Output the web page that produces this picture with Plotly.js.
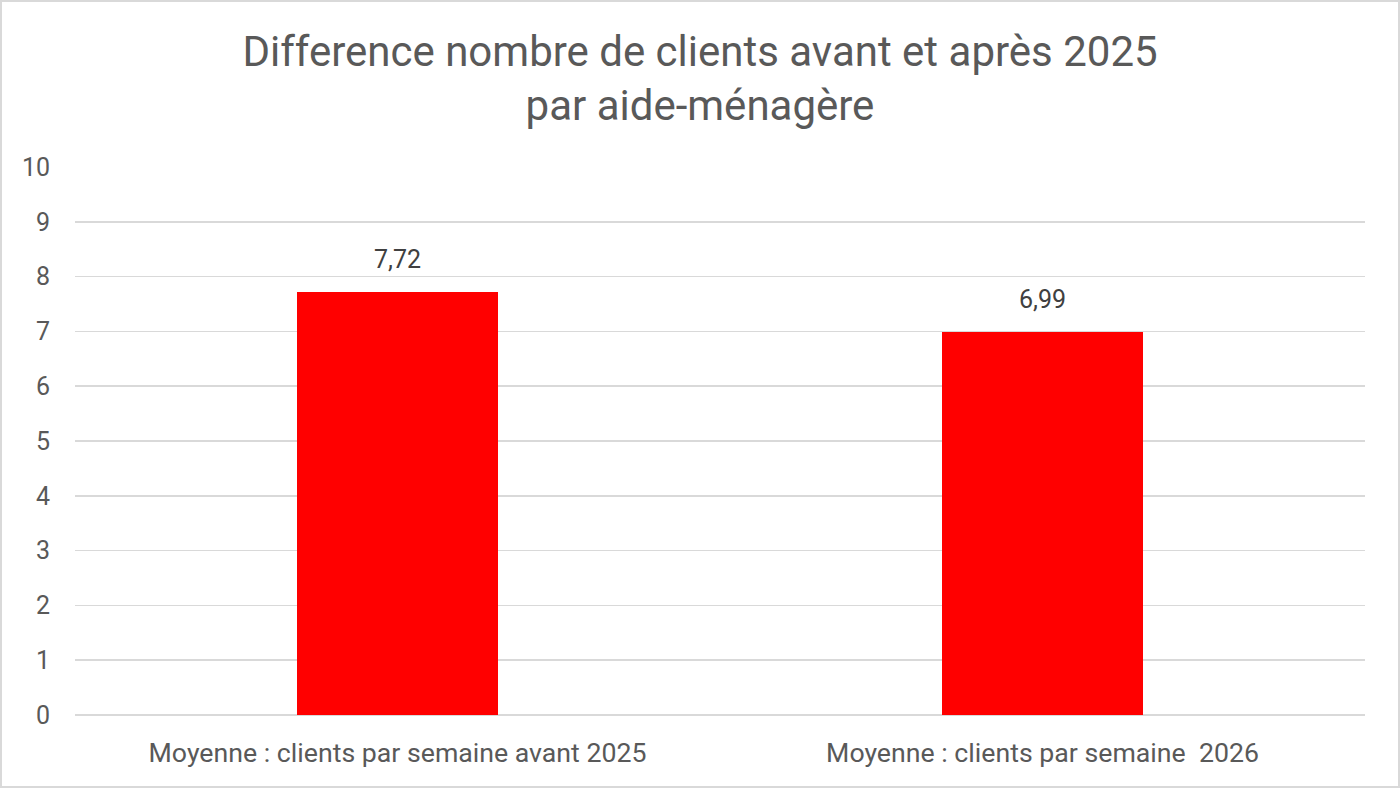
<!DOCTYPE html>
<html>
<head>
<meta charset="utf-8">
<script src="https://cdn.plot.ly/plotly-3.0.1.min.js"></script>
<style>
  html, body { margin: 0; padding: 0; background: #fff; }
  #frame { position: absolute; left: 0; top: 0; width: 1396px; height: 784px; border: 2px solid #d9d9d9; overflow: hidden; }
  #chart { width: 1396px; height: 784px; }
</style>
</head>
<body>
<div id="frame"><div id="chart"></div></div>
<script>
const categories = ["Moyenne : clients par semaine avant 2025", "Moyenne : clients par semaine  2026"];
const values = [7.72, 6.99];
const yTicks = [0, 1, 2, 3, 4, 5, 6, 7, 8, 9, 10];
const titleText = "Difference nombre de clients avant et après 2025<br>par aide-ménagère";

const font = "Roboto, 'Noto Sans', sans-serif";
const grey = "#595959";

const trace = {
  type: "bar",
  x: categories,
  y: values,
  marker: { color: "#ff0000" },
  width: 0.312,
  hoverinfo: "none"
};

const labelAnnotations = categories.map((c, i) => ({
  x: c,
  y: values[i],
  xref: "x",
  yref: "y",
  text: values[i].toFixed(2).replace(".", ","),
  showarrow: false,
  yanchor: "bottom",
  yshift: 16,
  font: { family: font, size: 25, color: "#404040" }
}));

const layout = {
  width: 1396,
  height: 784,
  margin: { l: 73, r: 33, t: 165, b: 71 },
  paper_bgcolor: "#fff",
  plot_bgcolor: "#fff",
  showlegend: false,
  bargap: 0,
  title: {
    text: titleText,
    font: { family: font, size: 42, color: grey },
    x: 0.5, xanchor: "center",
    y: 0.919, yanchor: "middle"
  },
  annotations: labelAnnotations,
  xaxis: {
    type: "category",
    showgrid: false,
    zeroline: false,
    showline: false,
    ticks: "outside", ticklen: 14, tickcolor: "rgba(0,0,0,0)",
    tickfont: { family: font, size: 26.7, color: grey }
  },
  yaxis: {
    range: [0, 10],
    tickvals: yTicks,
    ticktext: yTicks.map(String),
    showgrid: true,
    gridcolor: "#d9d9d9",
    gridwidth: 1.5,
    zeroline: true,
    zerolinecolor: "#d9d9d9",
    zerolinewidth: 1.5,
    showline: false,
    ticks: "outside", ticklen: 19, tickcolor: "rgba(0,0,0,0)",
    tickfont: { family: font, size: 25, color: grey }
  }
};

Plotly.newPlot("chart", [trace], layout, { displayModeBar: false, staticPlot: true });
</script>
</body>
</html>
